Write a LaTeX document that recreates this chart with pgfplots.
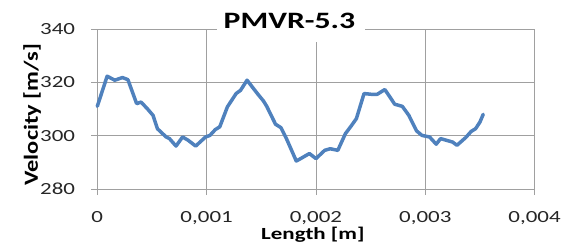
\documentclass[border=0pt]{standalone}
\usepackage{fontspec}
\setmainfont{Carlito}[FakeStretch=1.35]
\newfontfamily\yfont{Carlito}[FakeStretch=1.22]
\usepackage{pgfplots}
\pgfplotsset{compat=1.18}
\definecolor{exblue}{HTML}{4F81BD}
\definecolor{gridgray}{HTML}{A0A0A0}
\begin{document}
\begin{tikzpicture}
\begin{axis}[
  at={(0,0)}, anchor=south west,
  scale only axis, width=437.3bp, height=160bp,
  xmin=0, xmax=0.004, ymin=280, ymax=340,
  xtick={0,0.001,0.002,0.003,0.004},
  xticklabels={0,{0,001},{0,002},{0,003},{0,004}},
  ytick={280,300,320,340},
  yticklabels={280,300,320,340},
  scaled x ticks=false,
  grid=major,
  major grid style={gridgray, line width=0.8bp},
  axis line style={gridgray, line width=0.8bp},
  tick style={gridgray, line width=0.8bp},
  major tick length=6bp,
  tick align=outside,
  xtick pos=bottom, ytick pos=left,
  ticklabel style={font=\fontsize{17bp}{20bp}\selectfont, text=black!85},
  xticklabel style={anchor=north, inner sep=0pt, yshift=-16.7bp},
  yticklabel style={anchor=east, inner sep=0pt, xshift=-16bp},
  xlabel={Length [m]},
  ylabel={Velocity [m/s]},
  xlabel style={at={(axis description cs:0.493,0)}, anchor=base, yshift=-50bp, inner sep=0pt, font=\fontsize{17bp}{20bp}\selectfont\bfseries},
  ylabel style={at={(axis description cs:0,0.464)}, anchor=base, yshift=59.3bp, inner sep=0pt, font=\yfont\fontsize{20bp}{24bp}\selectfont\bfseries},
  clip=false,
]
\addplot[color=exblue, line width=3.5bp, line join=round, line cap=round] coordinates {
(0,311.0) (0.00009,322.3) (0.00016,320.8) (0.00023,321.8) (0.00028,321.0)
(0.00036,312.0) (0.00040,312.6) (0.00046,310.0) (0.00051,307.6) (0.00055,302.6)
(0.00063,299.5) (0.00066,298.9) (0.00072,296.1) (0.00078,299.5) (0.00083,298.3)
(0.00090,296.1) (0.00099,299.5) (0.00103,300.1) (0.00108,302.3) (0.00112,303.3)
(0.00119,310.8) (0.00127,315.8) (0.00131,317.0) (0.00137,320.8) (0.00143,317.6)
(0.00147,315.5) (0.00152,313.0) (0.00155,311.0) (0.00163,304.3) (0.00168,303.0)
(0.00173,298.9) (0.00182,290.5) (0.00186,291.4) (0.00194,293.3) (0.00200,291.4)
(0.00208,294.5) (0.00213,295.1) (0.00220,294.5) (0.00227,300.8) (0.00232,303.5)
(0.00237,306.4) (0.00244,315.8) (0.00251,315.5) (0.00256,315.5) (0.00263,317.3)
(0.00268,314.3) (0.00272,311.8) (0.00279,311.0) (0.00285,307.6) (0.00292,301.8)
(0.00297,300.1) (0.00304,299.5) (0.00310,296.8) (0.00314,298.9) (0.00325,297.6)
(0.00329,296.4) (0.00337,299.3) (0.00342,301.6) (0.00346,302.6) (0.00350,305.1)
(0.00353,308.0)
};
\end{axis}
\fill[white] (119.4bp,147.3bp) rectangle (267.7bp,178bp);
\node[anchor=base, inner sep=0pt, font=\fontsize{23.5bp}{28bp}\selectfont\bfseries] at (192.2bp,160.7bp) {PMVR-5.3};
\pgfresetboundingbox
\useasboundingbox (-97.3bp,-62bp) rectangle (470.7bp,189bp);
\end{tikzpicture}
\end{document}
